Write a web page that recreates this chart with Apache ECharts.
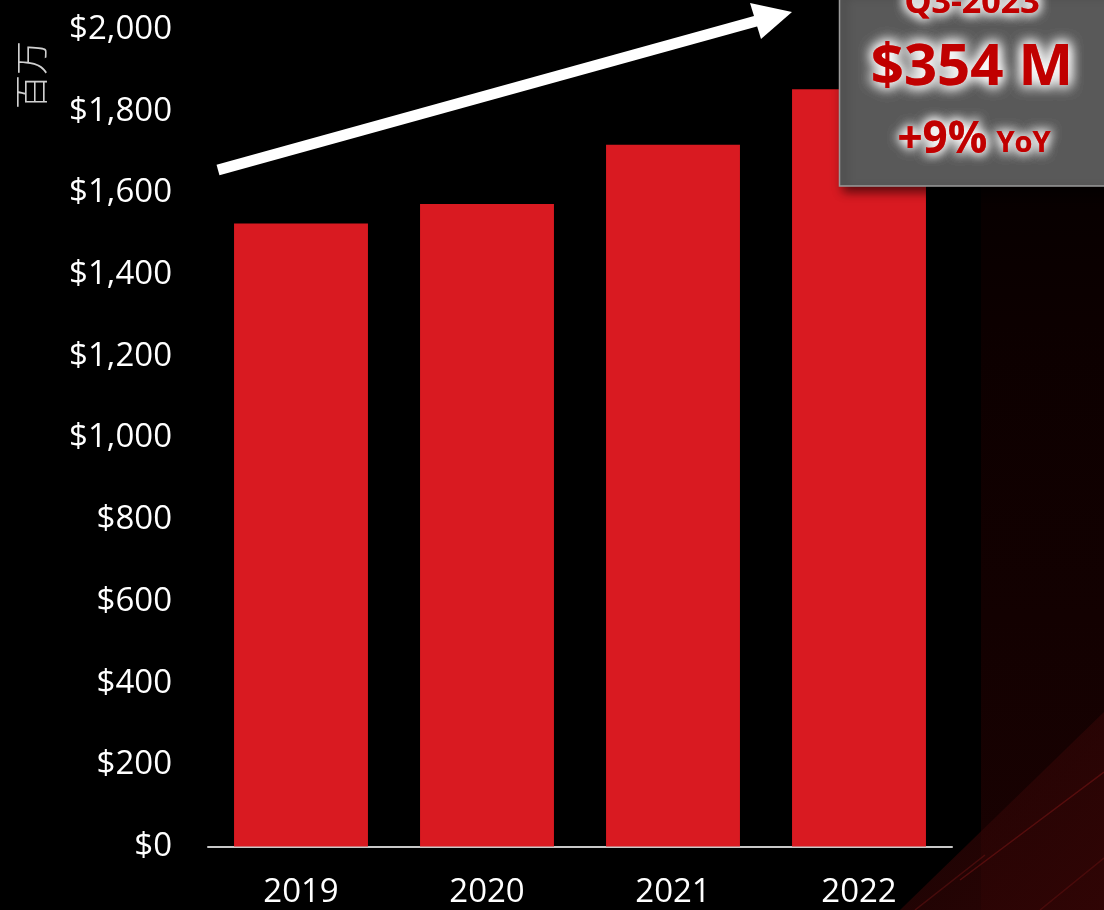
<!DOCTYPE html>
<html>
<head>
<meta charset="utf-8">
<script src="https://cdn.jsdelivr.net/npm/echarts@6/dist/echarts.min.js"></script>
<style>
html,body{margin:0;padding:0;background:#000;}
#c{width:1104px;height:910px;}
</style>
</head>
<body>
<div id="c"></div>
<script>
var categories = ['2019', '2020', '2021', '2022'];
var revenue = [1525, 1573, 1718, 1854];
var yTicks = [0, 200, 400, 600, 800, 1000, 1200, 1400, 1600, 1800, 2000];
var unitLabel = '百万';
var calloutPeriod = 'Q3-2023';
var calloutValue = '$354 M';
var calloutGrowth = '+9%';
var calloutGrowthUnit = 'YoY';

var chart = echarts.init(document.getElementById('c'), null, {renderer: 'canvas'});
var FONT = '"Open Sans", "Noto Sans", sans-serif';
var RED = '#C00000';

function fmt(v) {
  return '$' + v.toLocaleString('en-US');
}

function glowText(x, y, text, font, blur, rich) {
  var out = [];
  for (var i = 0; i < 3; i++) {
    var st = {text: text, fill: RED, align: 'center', verticalAlign: 'middle',
      textShadowColor: '#fff', textShadowBlur: blur};
    if (font) st.font = font;
    if (rich) st.rich = rich;
    out.push({type: 'text', z: 11 + i, silent: true, x: x, y: y, style: st});
  }
  return out;
}

var graphics = [
  // background tint bottom-right
  {type: 'rect', z: -10, silent: true, shape: {x: 981, y: 0, width: 123, height: 910},
    style: {fill: new echarts.graphic.LinearGradient(0, 0, 0, 1, [
      {offset: 0, color: '#000000'}, {offset: 0.35, color: '#0c0000'}, {offset: 1, color: '#1a0202'}])}},
  {type: 'polygon', z: -9, silent: true, shape: {points: [[900, 910], [1104, 712], [1104, 910]]},
    style: {fill: new echarts.graphic.LinearGradient(0, 0, 1, 1, [
      {offset: 0, color: 'rgba(45,5,5,0.5)'}, {offset: 1, color: 'rgba(50,5,5,0.9)'}])}},
  {type: 'line', z: -8, silent: true, shape: {x1: 960, y1: 880, x2: 1104, y2: 772}, style: {stroke: 'rgba(140,25,25,0.45)', lineWidth: 1.5}},
  {type: 'line', z: -8, silent: true, shape: {x1: 915, y1: 910, x2: 985, y2: 855}, style: {stroke: 'rgba(140,25,25,0.35)', lineWidth: 1.5}},
  {type: 'line', z: -8, silent: true, shape: {x1: 1040, y1: 910, x2: 1104, y2: 858}, style: {stroke: 'rgba(140,25,25,0.3)', lineWidth: 1.5}},
  // unit label
  {type: 'text', z: 5, x: 31, y: 75, rotation: Math.PI / 2, silent: true,
    style: {text: unitLabel, fill: '#d0d0d0', font: '300 34px "Noto Sans CJK SC", sans-serif', align: 'center', verticalAlign: 'middle'}},
  // arrow
  {type: 'line', z: 5, silent: true, shape: {x1: 218, y1: 170, x2: 760, y2: 20},
    style: {stroke: '#fff', lineWidth: 11}},
  {type: 'polygon', z: 5, silent: true, shape: {points: [[792, 12], [750, 3], [761, 39]]},
    style: {fill: '#fff'}},
  // callout box
  {type: 'rect', z: 10, silent: true, shape: {x: 839.5, y: -10, width: 280, height: 196},
    style: {fill: '#595959', stroke: '#9a9a9a', lineWidth: 1.5,
      shadowColor: 'rgba(0,0,0,0.6)', shadowBlur: 10, shadowOffsetX: 4, shadowOffsetY: 5}}
];
graphics = graphics
  .concat(glowText(972, 3, calloutPeriod, 'bold 34px ' + FONT, 12))
  .concat(glowText(972, 68, calloutValue, 'bold 58px ' + FONT, 14))
  .concat(glowText(974, 140, '{a|' + calloutGrowth + '}{b|' + calloutGrowthUnit + '}', null, 12, {
    a: {fill: RED, font: 'bold 44px ' + FONT, textShadowColor: '#fff', textShadowBlur: 12, verticalAlign: 'bottom'},
    b: {fill: RED, font: 'bold 29px ' + FONT, textShadowColor: '#fff', textShadowBlur: 12, verticalAlign: 'bottom', padding: [0, 0, 4, 9]}
  }));

var option = {
  backgroundColor: '#000',
  animation: false,
  grid: {left: 208, right: 152, top: 29.5, bottom: 63.5},
  xAxis: {
    type: 'category',
    data: categories,
    axisLine: {lineStyle: {color: '#c8c8c8', width: 2}},
    axisTick: {show: false},
    axisLabel: {color: '#fff', fontFamily: FONT, fontSize: 33, margin: 30}
  },
  yAxis: {
    type: 'value',
    min: yTicks[0],
    max: yTicks[yTicks.length - 1],
    interval: yTicks[1] - yTicks[0],
    axisLine: {show: false},
    axisTick: {show: false},
    splitLine: {show: false},
    axisLabel: {color: '#fff', fontFamily: FONT, fontSize: 33, margin: 36, formatter: fmt}
  },
  series: [{
    type: 'bar',
    data: revenue,
    barCategoryGap: '28%',
    itemStyle: {color: '#D91A21'},
    z: 2
  }],
  graphic: graphics
};
chart.setOption(option);
</script>
</body>
</html>
